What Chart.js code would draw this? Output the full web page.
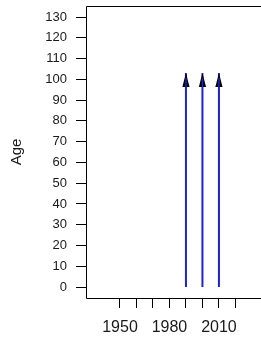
<!DOCTYPE html>
<html>
<head>
<meta charset="utf-8">
<script src="https://cdn.jsdelivr.net/npm/chart.js@4.4.1/dist/chart.umd.min.js"></script>
<style>
  html, body { margin: 0; padding: 0; background: #fff; overflow: hidden; }
  canvas { display: block; }
</style>
</head>
<body>
<canvas id="lexisChart" width="261" height="339"></canvas>
<script>
// arrows (one per cohort year), from age 0 up to the arrow tip
var arrowYears = [1990, 2000, 2010];
var arrowFrom = [0, 0, 0];
var arrowTo = [103, 103, 103];

// axis ticks
var xTicks = [1950, 1960, 1970, 1980, 1990, 2000, 2010, 2020];
var xLabels = [1950, 1980, 2010];
var yTicks = [0, 10, 20, 30, 40, 50, 60, 70, 80, 90, 100, 110, 120, 130];

var fontFamily = "'Liberation Sans', Arial, sans-serif";

var datasets = [];
for (var i = 0; i < arrowYears.length; i++) {
    datasets.push({
        label: 'arrow ' + arrowYears[i],
        data: [
            { x: arrowYears[i], y: arrowFrom[i] },
            { x: arrowYears[i], y: arrowTo[i] }
        ],
        borderColor: '#2020d0',
        borderWidth: 2,
        pointRadius: 0,
        fill: false
    });
}

// box around the plot (open on the right, like the original) + arrow heads
var boxAndHeads = {
    id: 'boxAndHeads',
    afterDatasetsDraw: function (chart) {
        var ctx = chart.ctx;
        var a = chart.chartArea;
        ctx.save();
        // arrow heads
        chart.data.datasets.forEach(function (ds, i) {
            var meta = chart.getDatasetMeta(i);
            var tip = meta.data[meta.data.length - 1];
            var x = tip.x, y = tip.y;
            ctx.beginPath();
            ctx.moveTo(x, y);
            ctx.lineTo(x - 3.6, y + 14);
            ctx.lineTo(x + 3.6, y + 14);
            ctx.closePath();
            ctx.fillStyle = '#000';
            ctx.fill();
            ctx.beginPath();
            ctx.moveTo(x, y + 14);
            ctx.lineTo(x, y + 5);
            ctx.strokeStyle = '#2020d0';
            ctx.lineWidth = 1.5;
            ctx.stroke();
        });
        // box
        ctx.beginPath();
        ctx.strokeStyle = '#000';
        ctx.lineWidth = 1;
        ctx.moveTo(a.right + 2, Math.round(a.top) + 0.5);
        ctx.lineTo(Math.round(a.left) + 0.5, Math.round(a.top) + 0.5);
        ctx.lineTo(Math.round(a.left) + 0.5, Math.round(a.bottom) + 0.5);
        ctx.lineTo(a.right + 2, Math.round(a.bottom) + 0.5);
        ctx.stroke();
        ctx.restore();
    }
};

var chart = new Chart(document.getElementById('lexisChart'), {
    type: 'line',
    data: { datasets: datasets },
    options: {
        responsive: false,
        animation: false,
        events: [],
        layout: { padding: { top: 6, right: 0, bottom: 0, left: 0 } },
        plugins: {
            legend: { display: false },
            tooltip: { enabled: false }
        },
        scales: {
            x: {
                type: 'linear',
                position: 'bottom',
                min: 1929.4,
                max: 2035.5,
                afterBuildTicks: function (scale) {
                    scale.ticks = xTicks.map(function (v) { return { value: v }; });
                },
                afterFit: function (scale) {
                    scale.height = 41;
                    scale.paddingLeft = 0;
                    scale.paddingRight = 0;
                },
                ticks: {
                    autoSkip: false,
                    maxRotation: 0,
                    padding: 10,
                    color: '#1a1a1a',
                    font: { family: fontFamily, size: 16 },
                    callback: function (v) {
                        return xLabels.indexOf(v) >= 0 ? String(v) : '';
                    }
                },
                grid: {
                    drawOnChartArea: false,
                    drawTicks: true,
                    tickLength: 10,
                    color: '#000'
                },
                border: { display: false }
            },
            y: {
                type: 'linear',
                position: 'left',
                min: -5.29,
                max: 135.3,
                afterBuildTicks: function (scale) {
                    scale.ticks = yTicks.map(function (v) { return { value: v }; });
                },
                afterFit: function (scale) {
                    scale.width = 86;
                    scale.paddingTop = 0;
                    scale.paddingBottom = 0;
                },
                ticks: {
                    autoSkip: false,
                    padding: 9,
                    color: '#1a1a1a',
                    font: { family: fontFamily, size: 13 }
                },
                grid: {
                    drawOnChartArea: false,
                    drawTicks: true,
                    tickLength: 10,
                    color: '#000'
                },
                border: { display: false },
                title: {
                    display: true,
                    text: 'Age',
                    color: '#1a1a1a',
                    font: { family: fontFamily, size: 15 },
                    padding: { top: 8, bottom: 0 }
                }
            }
        }
    },
    plugins: [boxAndHeads]
});
</script>
</body>
</html>
